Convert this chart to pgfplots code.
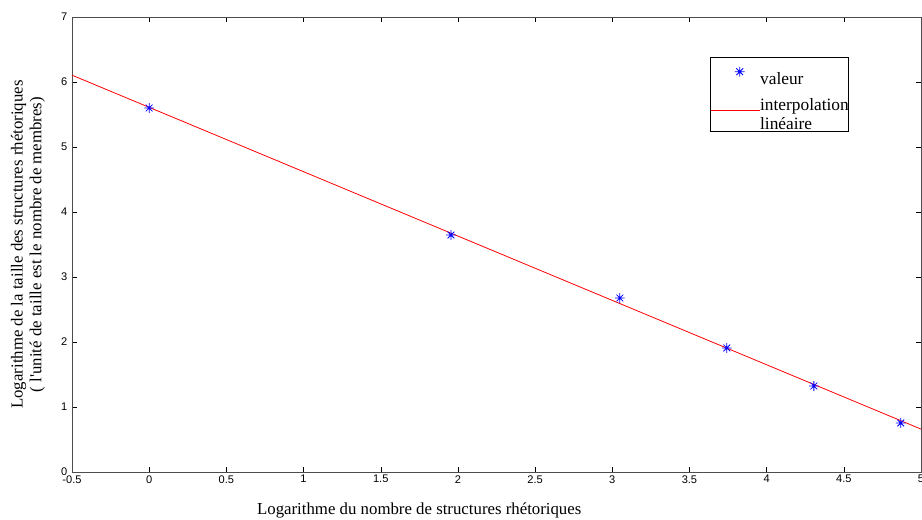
\documentclass[border=0pt]{standalone}
\usepackage{pgfplots}
\pgfplotsset{compat=1.18}
\usepackage{fontspec}
\setmainfont{Liberation Serif}
\newfontfamily\serifnomap{Liberation Serif}
\newfontfamily\ticksans{Liberation Sans}

% MATLAB-style asterisk: plus and cross on top of each other
\pgfdeclareplotmark{matstar}{%
  \pgfpathmoveto{\pgfqpoint{-\pgfplotmarksize}{0pt}}%
  \pgfpathlineto{\pgfqpoint{\pgfplotmarksize}{0pt}}%
  \pgfpathmoveto{\pgfqpoint{0pt}{-\pgfplotmarksize}}%
  \pgfpathlineto{\pgfqpoint{0pt}{\pgfplotmarksize}}%
  \pgfpathmoveto{\pgfqpoint{-0.7\pgfplotmarksize}{-0.7\pgfplotmarksize}}%
  \pgfpathlineto{\pgfqpoint{0.7\pgfplotmarksize}{0.7\pgfplotmarksize}}%
  \pgfpathmoveto{\pgfqpoint{-0.7\pgfplotmarksize}{0.7\pgfplotmarksize}}%
  \pgfpathlineto{\pgfqpoint{0.7\pgfplotmarksize}{-0.7\pgfplotmarksize}}%
  \pgfusepathqstroke}

\pgfplotsset{
  starlegend/.style={legend image code/.code={\draw[mark repeat=2,mark phase=2,##1]
      plot coordinates {(0pt,0pt) (21.75pt,0pt) (36.75pt,0pt)};}},
  linelegend/.style={legend image code/.code={\draw[draw=red, line width=0.6pt] (0pt,3pt) -- (36.75pt,3pt);}},
}

\begin{document}
\begin{tikzpicture}
\useasboundingbox (-54pt,-36pt) rectangle (637.5pt,354pt);
\begin{axis}[
    at={(0,0)}, anchor=south west,
    width=636.75pt, height=341.25pt,
    scale only axis,
    xmin=-0.5, xmax=5,
    ymin=0, ymax=7,
    xtick={-0.5,0,...,5},
    ytick={0,1,...,7},
    tick align=inside,
    major tick length=4pt,
    axis line style={black!70},
    tick style={black},
    /pgf/number format/assume math mode=true,
    tick label style={font=\ticksans\fontsize{8.3}{10}\selectfont},
    xticklabel style={yshift=1pt},
    label style={font=\fontsize{12.6}{14}\selectfont},
    xlabel={Logarithme du nombre de structures rhétoriques},
    xlabel style={at={(axis description cs:0.409,-0.0835)}, anchor=center},
    ylabel={Logarithme de la taille des structures rhétoriques\\( l{\serifnomap'}unité de taille est le nombre de membres)},
    ylabel style={at={(axis description cs:-0.0518,0.5)}, anchor=center, align=center},
    legend style={at={(rel axis cs:0.7515,0.912)}, anchor=north west,
        font=\fontsize{13}{14}\selectfont, line width=0.5pt,
        cells={anchor=west, align=left}, inner xsep=0pt, inner ysep=0pt,
        nodes={inner sep=0pt}, row sep=9.25pt},
    legend cell align=left,
]
\addplot[only marks, blue, mark=matstar, mark size=3.6pt, line width=0.6pt, starlegend]
    coordinates {
    (0,5.60) (1.955,3.646) (3.049,2.677) (3.742,1.908) (4.306,1.323) (4.869,0.754)
};
\addplot[red, line width=0.6pt, linelegend]
    coordinates {(-0.5,6.105) (5,0.66)};
\legend{\rule{0pt}{20pt}valeur, interpolation\\linéaire}
\end{axis}
\end{tikzpicture}
\end{document}
